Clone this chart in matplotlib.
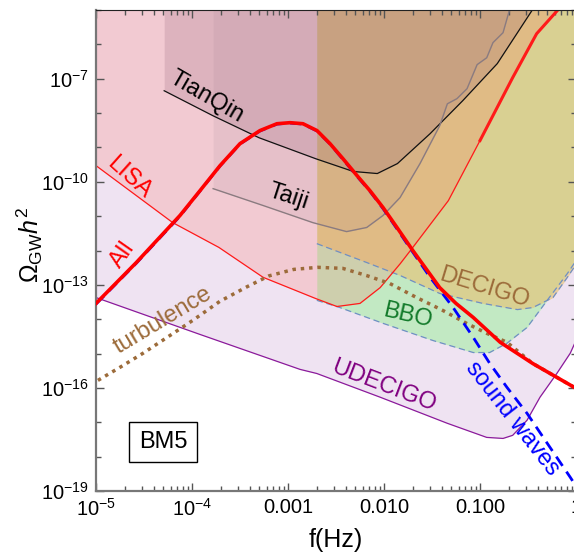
import numpy as np
import matplotlib
matplotlib.use("Agg")
import matplotlib.pyplot as plt
from matplotlib.ticker import FixedLocator, NullFormatter

plt.rcParams['font.family'] = ['Liberation Sans', 'DejaVu Sans']
plt.rcParams['mathtext.fontset'] = 'custom'
plt.rcParams['mathtext.rm'] = 'Liberation Sans'
plt.rcParams['mathtext.it'] = 'Liberation Sans:italic'

# all values are log10(f / Hz) and log10(Omega_GW h^2)
lisa_logf = [-5.0, -4.20, -3.72, -3.26, -2.71, -2.49, -2.25, -2.04, -1.83, -1.70, -1.33, -1.0, -0.66, -0.41, -0.17]
lisa_logo = [-9.53, -11.19, -11.91, -12.78, -13.40, -13.63, -13.54, -13.08, -12.38, -11.91, -10.55, -8.80, -6.97, -5.69, -4.94]

tianqin_logf = [-4.29, -3.78, -3.30, -2.71, -2.32, -2.07, -1.86, -1.52, -1.18, -0.82, -0.46]
tianqin_logo = [-7.35, -8.08, -8.72, -9.33, -9.70, -9.76, -9.47, -8.60, -7.64, -6.56, -5.02]

taiji_logf = [-3.78, -3.26, -2.74, -2.39, -2.18, -2.01, -1.833, -1.625, -1.42, -1.34, -1.24, -1.135, -1.03, -0.93, -0.865, -0.76, -0.69]
taiji_logo = [-10.20, -10.69, -11.19, -11.45, -11.33, -10.98, -10.46, -9.47, -8.37, -7.73, -7.58, -7.29, -6.59, -6.39, -5.95, -5.66, -4.97]

decigo_logf = [-2.70, -2.18, -1.83, -1.42, -0.97, -0.61, -0.45, -0.24, -0.09, -0.02, 0.05]
decigo_logo = [-11.80, -12.35, -12.73, -13.25, -13.54, -13.72, -13.66, -13.37, -12.78, -12.49, -11.6]

bbo_logf = [-2.70, -2.46, -2.01, -1.49, -1.07, -0.90, -0.72, -0.51, -0.30, -0.09, -0.02, 0.05]
bbo_logo = [-13.45, -13.66, -14.12, -14.62, -14.97, -14.97, -14.70, -14.24, -13.45, -12.67, -12.38, -11.6]

udecigo_logf = [-5.0, -3.92, -2.875, -2.70, -2.04, -1.34, -0.93, -0.76, -0.66, -0.51, -0.375, -0.20, -0.06, 0.0, 0.05]
udecigo_logo = [-13.37, -14.44, -15.46, -15.58, -16.27, -17.03, -17.44, -17.47, -17.38, -16.94, -16.27, -15.58, -14.99, -14.62, -14.4]

all_logf = [-5.0, -4.58, -4.125, -3.917, -3.708, -3.5, -3.292, -3.115, -2.979, -2.844, -2.698, -2.5625,
            -2.427, -2.281, -2.146, -2.01, -1.865, -1.70, -1.42, -1.25, -1.07, -0.79, -0.45, -0.02]
all_logo = [-13.54, -12.35, -10.98, -10.26, -9.53, -8.89, -8.51, -8.31, -8.28, -8.31, -8.51, -8.89,
            -9.33, -9.82, -10.26, -10.75, -11.33, -12.0, -13.08, -13.54, -13.95, -14.67, -15.29, -15.98]

sw_logf = [-5.0, -4.58, -4.125, -3.917, -3.708, -3.5, -3.292, -3.115, -2.979, -2.844, -2.698, -2.5625,
           -2.427, -2.281, -2.146, -2.01, -1.865, -1.70, -1.52, -1.28, -1.07, -0.90, -0.72, -0.51, -0.30, -0.06, 0.0]
sw_logo = [-13.56, -12.37, -11.0, -10.27, -9.54, -8.90, -8.52, -8.32, -8.29, -8.32, -8.52, -8.90,
           -9.35, -9.84, -10.28, -10.78, -11.37, -12.05, -12.78, -13.66, -14.53, -15.28, -15.98, -16.74, -17.61, -18.60, -18.86]

turb_logf = [-4.98, -4.75, -4.51, -4.26, -3.99, -3.71, -3.43, -3.20, -2.94, -2.69, -2.43, -2.18, -1.94, -1.66, -1.39, -1.14, -0.93, -0.72, -0.45, -0.02]
turb_logo = [-15.78, -15.40, -14.99, -14.53, -14.03, -13.48, -13.06, -12.74, -12.55, -12.49, -12.52, -12.73, -12.96, -13.37, -13.74, -14.12, -14.41, -14.67, -15.29, -15.98]

x_ticks = [1e-5, 1e-4, 1e-3, 1e-2, 1e-1, 1.0]
x_labels = [r"$10^{-5}$", r"$10^{-4}$", "0.001", "0.010", "0.100", "1"]
y_ticks = [1e-19, 1e-16, 1e-13, 1e-10, 1e-7]
y_labels = [r"$10^{-19}$", r"$10^{-16}$", r"$10^{-13}$", r"$10^{-10}$", r"$10^{-7}$"]


def pts(logf, logo):
    return 10 ** np.array(logf), 10 ** np.array(logo)


TOP = 1e-3

fig = plt.figure(figsize=(5.74, 5.52), dpi=100)
ax = fig.add_axes([96 / 574, 61 / 552, 480 / 574, 481 / 552])
ax.set_xscale('log')
ax.set_yscale('log')
ax.set_xlim(1e-5, 1)
ax.set_ylim(1e-19, 1e-5)

# filled regions, drawn in layers
f, o = pts(udecigo_logf, udecigo_logo)
ax.fill_between(f, o, TOP, color='#cda5d7', alpha=0.3, lw=0, zorder=1)
f, o = pts(bbo_logf, bbo_logo)
ax.fill_between(f, o, TOP, color='#96f096', alpha=0.5, lw=0, zorder=1)
f, o = pts(decigo_logf, decigo_logo)
ax.fill_between(f, o, TOP, color='#e6c378', alpha=0.65, lw=0, zorder=1)
f, o = pts(lisa_logf, lisa_logo)
ax.fill_between(f, o, TOP, color='#ff6955', alpha=0.2, lw=0, zorder=1)
f, o = pts(tianqin_logf, tianqin_logo)
ax.fill_between(f, o, TOP, color='#8c5a6e', alpha=0.2, lw=0, zorder=1)
f, o = pts(taiji_logf, taiji_logo)
ax.fill_between(f, o, TOP, color='#96788a', alpha=0.12, lw=0, zorder=1)

# detector curves
ax.plot(*pts(udecigo_logf, udecigo_logo), color='#8b1a9b', lw=0.9, zorder=2)
ax.plot(*pts(bbo_logf, bbo_logo), color='#6f8fc4', lw=0.9, ls=(0, (5, 3)), zorder=2)
ax.plot(*pts(decigo_logf, decigo_logo), color='#6f8fc4', lw=0.9, ls=(0, (5, 3)), zorder=2)
ax.plot(*pts(lisa_logf, lisa_logo), color='#ff1a1a', lw=0.9, zorder=2)
ax.plot(*pts(lisa_logf[-4:], lisa_logo[-4:]), color='#ff1a1a', lw=2.2, zorder=2)
ax.plot(*pts(tianqin_logf, tianqin_logo), color='#111111', lw=0.9, zorder=2)
ax.plot(*pts(taiji_logf, taiji_logo), color='#8a7b80', lw=1.0, zorder=2)

# signal curves
ax.plot(*pts(turb_logf, turb_logo), color='#9c6b3a', lw=2.5, ls=(0, (1, 1.4)), zorder=3)
ax.plot(*pts(sw_logf, sw_logo), color='#0000ff', lw=2.0, ls=(0, (4, 2.5)), zorder=3)
ax.plot(*pts(all_logf, all_logo), color='#ff0000', lw=2.6, zorder=4)

# axes styling
ax.xaxis.set_major_locator(FixedLocator(x_ticks))
ax.set_xticklabels(x_labels)
minor_x = [m * 10.0 ** e for e in range(-5, 0) for m in range(2, 10)]
ax.xaxis.set_minor_locator(FixedLocator(minor_x))
ax.xaxis.set_minor_formatter(NullFormatter())
ax.yaxis.set_major_locator(FixedLocator(y_ticks))
ax.set_yticklabels(y_labels)
minor_y = [10.0 ** e for e in range(-19, -4) if e not in (-19, -16, -13, -10, -7)]
ax.yaxis.set_minor_locator(FixedLocator(minor_y))
ax.yaxis.set_minor_formatter(NullFormatter())
ax.tick_params(which='both', direction='in', top=True, right=True, color='#555555', labelsize=14.5, width=1)
ax.tick_params(which='major', length=6, pad=5)
ax.tick_params(which='minor', length=3.5)
for side in ['left', 'bottom']:
    ax.spines[side].set_color('#777777')
    ax.spines[side].set_linewidth(1.6)
ax.spines['top'].set_color('#222222')
ax.spines['right'].set_color('#777777')

ax.set_xlabel("f(Hz)", fontsize=18, labelpad=6)
fig.text(30 / 574, 1 - 245 / 552, r"$\Omega_{\mathrm{GW}}h^2$", fontsize=18, rotation=90, ha='center', va='center')


def label(x, y, s, color, rot, size=17):
    fig.text(x / 574, 1 - y / 552, s, color=color, rotation=rot, fontsize=size,
             ha='center', va='center', rotation_mode='anchor', zorder=5)


label(207, 97, "TianQin", 'black', -30)
label(129, 178, "LISA", '#ff0000', -42)
label(123, 255, "All", '#ff0000', 55)
label(288, 197, "Taiji", 'black', -18)
label(163, 320, "turbulence", '#9c6b3a', 31)
label(484, 288, "DECIGO", '#9c6b3a', -17)
label(408, 316, "BBO", '#127a2a', -13)
label(384, 386, "UDECIGO", '#800080', -21)
label(512, 419, "sound waves", '#0000ff', -52)

fig.text(163 / 574, 1 - 442 / 552, "BM5", fontsize=17, ha='center', va='center',
         bbox=dict(boxstyle='square,pad=0.4', fc='white', ec='black', lw=1))

fig.savefig("out.png", dpi=100)
plt.close(fig)
